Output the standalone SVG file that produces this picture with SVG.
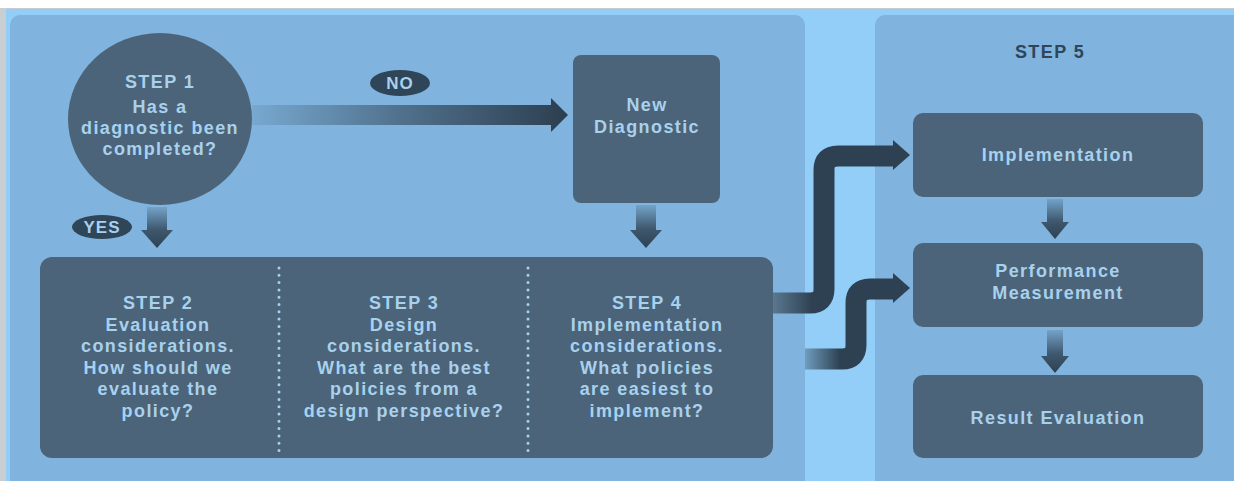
<svg xmlns="http://www.w3.org/2000/svg" width="1234" height="481" viewBox="0 0 1234 481">
<style>
.t{font-family:"Liberation Sans",Arial,sans-serif;font-weight:700;font-size:18px;fill:#A8D1EE;text-anchor:middle;letter-spacing:1.4px}
.node{fill:#4B6479}
.pill{fill:#2F4558}
.pt{font-family:"Liberation Sans",Arial,sans-serif;font-weight:700;font-size:17px;fill:#A8D1EE;text-anchor:middle;letter-spacing:1px}
.dots{stroke:#A8D1EE;stroke-width:3;stroke-linecap:round;stroke-dasharray:0 7.3;fill:none}
.pipe{fill:none;stroke-width:21;stroke-linejoin:round}
.head{fill:#2E4152}
</style>
<defs>
<linearGradient id="gv" x1="0" y1="0" x2="0" y2="1">
<stop offset="0" stop-color="#2E4152" stop-opacity="0.15"/>
<stop offset="0.55" stop-color="#2E4152" stop-opacity="0.8"/>
<stop offset="1" stop-color="#2E4152"/>
</linearGradient>
<linearGradient id="gno" gradientUnits="userSpaceOnUse" x1="252" y1="0" x2="560" y2="0">
<stop offset="0" stop-color="#2E4152" stop-opacity="0.1"/>
<stop offset="0.5" stop-color="#2E4152" stop-opacity="0.6"/>
<stop offset="1" stop-color="#2E4152"/>
</linearGradient>
<linearGradient id="gp1" gradientUnits="userSpaceOnUse" x1="773" y1="0" x2="812" y2="0">
<stop offset="0" stop-color="#5A7890"/>
<stop offset="1" stop-color="#2E4152"/>
</linearGradient>
<linearGradient id="gp2" gradientUnits="userSpaceOnUse" x1="805" y1="0" x2="840" y2="0">
<stop offset="0" stop-color="#2E4152" stop-opacity="0.35"/>
<stop offset="1" stop-color="#2E4152"/>
</linearGradient>
</defs>
<rect x="0" y="0" width="1234" height="481" fill="#92CEF8"/>
<rect x="0" y="0" width="1234" height="8" fill="#FFFFFF"/>
<rect x="0" y="8" width="1234" height="1" fill="#C4CCD2"/>
<rect x="0" y="8" width="6" height="473" fill="#C9CED2"/>
<g id="panel-left"><rect x="10" y="15" width="795" height="480" rx="10" fill="#80B4DE"/></g>
<g id="panel-right"><rect x="875" y="15" width="370" height="480" rx="10" fill="#80B4DE"/></g>

<g id="connectors">
<path d="M252 105 H551 V98 L568 115 L551 132 V125 H252 Z" fill="url(#gno)"/>
<path d="M147 207 H167 V230 H173 L157 248 L141 230 H147 Z" fill="url(#gv)"/>
<path d="M636 205 H656 V230 H662 L646 248 L630 230 H636 Z" fill="url(#gv)"/>
<path d="M1047 199 H1063 V222 H1069 L1055 239 L1041 222 H1047 Z" fill="url(#gv)"/>
<path d="M1047 330 H1063 V356 H1069 L1055 373 L1041 356 H1047 Z" fill="url(#gv)"/>
<path class="pipe" stroke="url(#gp1)" d="M773 303 H810 Q824 303 824 289 V170 Q824 156 838 156 H895"/>
<polygon class="head" points="893,140 910,155 893,170"/>
<path class="pipe" stroke="url(#gp2)" d="M805 359 H842 Q856 359 856 345 V303 Q856 289 870 289 H895"/>
<polygon class="head" points="893,273 910,288 893,303"/>
</g>

<g id="step1">
<ellipse cx="160" cy="119" rx="92" ry="86" class="node"/>
<text class="t" x="160" y="88">STEP 1</text>
<text class="t" x="160" y="113">Has a</text>
<text class="t" x="160" y="134">diagnostic been</text>
<text class="t" x="160" y="155">completed?</text>
</g>
<g id="no-label">
<ellipse cx="400" cy="83" rx="30" ry="13" class="pill"/>
<text class="pt" x="400" y="89">NO</text>
</g>
<g id="yes-label">
<ellipse cx="102" cy="227" rx="30" ry="12" class="pill"/>
<text class="pt" x="102" y="233">YES</text>
</g>
<g id="new-diagnostic">
<rect x="573" y="55" width="147" height="148" rx="8" class="node"/>
<text class="t" x="647" y="111">New</text>
<text class="t" x="647" y="133">Diagnostic</text>
</g>
<g id="steps-2-4">
<rect x="40" y="257" width="733" height="201" rx="12" class="node"/>
<line class="dots" x1="279" y1="268" x2="279" y2="452"/>
<line class="dots" x1="528" y1="268" x2="528" y2="452"/>
</g>
<g id="step2">
<text class="t" x="158" y="309">STEP 2</text>
<text class="t" x="158" y="330.5">Evaluation</text>
<text class="t" x="158" y="352">considerations.</text>
<text class="t" x="158" y="373.5">How should we</text>
<text class="t" x="158" y="395">evaluate the</text>
<text class="t" x="158" y="416.5">policy?</text>
</g>
<g id="step3">
<text class="t" x="404" y="309">STEP 3</text>
<text class="t" x="404" y="330.5">Design</text>
<text class="t" x="404" y="352">considerations.</text>
<text class="t" x="404" y="373.5">What are the best</text>
<text class="t" x="404" y="395">policies from a</text>
<text class="t" x="404" y="416.5">design perspective?</text>
</g>
<g id="step4">
<text class="t" x="647" y="309">STEP 4</text>
<text class="t" x="647" y="330.5">Implementation</text>
<text class="t" x="647" y="352">considerations.</text>
<text class="t" x="647" y="373.5">What policies</text>
<text class="t" x="647" y="395">are easiest to</text>
<text class="t" x="647" y="416.5">implement?</text>
</g>
<g id="step5">
<text class="t" x="1050" y="58" style="fill:#2F4558">STEP 5</text>
</g>
<g id="implementation">
<rect x="913" y="113" width="290" height="84" rx="10" class="node"/>
<text class="t" x="1058" y="161">Implementation</text>
</g>
<g id="performance-measurement">
<rect x="913" y="243" width="290" height="84" rx="10" class="node"/>
<text class="t" x="1058" y="277">Performance</text>
<text class="t" x="1058" y="299">Measurement</text>
</g>
<g id="result-evaluation">
<rect x="913" y="375" width="290" height="83" rx="10" class="node"/>
<text class="t" x="1058" y="424">Result Evaluation</text>
</g>
</svg>
